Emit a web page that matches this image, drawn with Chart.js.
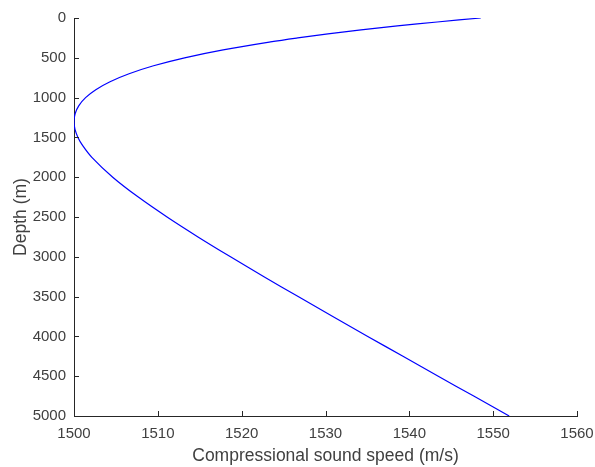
<!DOCTYPE html>
<html>
<head>
<meta charset="utf-8">
<script src="https://cdn.jsdelivr.net/npm/chart.js@4/dist/chart.umd.min.js"></script>
<style>
  html, body { margin: 0; padding: 0; background: #fff; }
  #wrap { width: 595px; height: 467px; }
</style>
</head>
<body>
<div id="wrap"><canvas id="profile" width="595" height="467"></canvas></div>
<script>
// sound speed profile, depth (m) vs compressional speed (m/s)
const depths = [0, 50, 100, 150, 200, 250, 300, 400, 500, 600, 700, 800, 900, 1000, 1100, 1200, 1300,
  1400, 1500, 1600, 1750, 2000, 2250, 2500, 2750, 3000, 3250, 3500, 3750, 4000, 4250, 4500, 4750, 5000];
const speeds = [1548.52, 1543.32, 1538.57, 1534.24, 1530.29, 1526.69, 1523.43, 1517.79, 1513.19, 1509.49,
  1506.57, 1504.30, 1502.60, 1501.38, 1500.58, 1500.14, 1500.00, 1500.12, 1500.47, 1501.02, 1502.13,
  1504.62, 1507.67, 1511.10, 1514.79, 1518.67, 1522.66, 1526.74, 1530.87, 1535.04, 1539.24, 1543.45,
  1547.68, 1551.91];

const xTicks = [1500, 1510, 1520, 1530, 1540, 1550, 1560];
const yTicks = [0, 500, 1000, 1500, 2000, 2500, 3000, 3500, 4000, 4500, 5000];

const axisColor = '#262626';
const textColor = '#404040';
const fontFamily = 'Arial, "Liberation Sans", Helvetica, sans-serif';

// matlab-style ticks pointing into the plot area
const inwardTicks = {
  id: 'inwardTicks',
  afterDraw(chart) {
    const { ctx, scales: { x, y }, chartArea } = chart;
    ctx.save();
    ctx.strokeStyle = axisColor;
    ctx.lineWidth = 1;
    ctx.beginPath();
    xTicks.forEach(v => {
      const px = Math.round(x.getPixelForValue(v)) + 0.5;
      ctx.moveTo(px, chartArea.bottom);
      ctx.lineTo(px, chartArea.bottom - 5);
    });
    yTicks.forEach(v => {
      const py = Math.round(y.getPixelForValue(v)) + 0.5;
      ctx.moveTo(chartArea.left, py);
      ctx.lineTo(chartArea.left + 5, py);
    });
    ctx.stroke();
    ctx.restore();
  }
};

const points = depths.map((d, i) => ({ x: speeds[i], y: d }));

new Chart(document.getElementById('profile'), {
  type: 'scatter',
  data: {
    datasets: [{
      data: points,
      showLine: true,
      borderColor: '#0000ff',
      borderWidth: 1.2,
      pointRadius: 0,
      tension: 0.35,
      fill: false
    }]
  },
  options: {
    responsive: false,
    animation: false,
    layout: { padding: { top: 18, right: 18, left: 0, bottom: 0 } },
    plugins: {
      legend: { display: false },
      tooltip: { enabled: false }
    },
    scales: {
      x: {
        type: 'linear',
        min: 1500,
        max: 1560,
        afterBuildTicks: s => { s.ticks = xTicks.map(v => ({ value: v })); },
        afterFit: s => { s.height = 51; s.paddingLeft = 0; s.paddingRight = 0; },
        grid: { display: false, drawTicks: false },
        border: { display: true, color: axisColor, width: 1 },
        ticks: {
          padding: 9,
          color: textColor,
          font: { family: fontFamily, size: 15 },
          maxRotation: 0,
          callback: v => String(v)
        },
        title: {
          display: true,
          text: 'Compressional sound speed (m/s)',
          color: textColor,
          font: { family: fontFamily, size: 17.5 },
          padding: { top: 0, bottom: 0 }
        }
      },
      y: {
        type: 'linear',
        reverse: true,
        min: 0,
        max: 5000,
        afterBuildTicks: s => { s.ticks = yTicks.map(v => ({ value: v })); },
        afterFit: s => { s.width = 74; s.paddingTop = 0; s.paddingBottom = 0; },
        grid: { display: false, drawTicks: false },
        border: { display: true, color: axisColor, width: 1 },
        ticks: {
          padding: 8,
          color: textColor,
          font: { family: fontFamily, size: 15 },
          callback: v => String(v)
        },
        title: {
          display: true,
          text: 'Depth (m)',
          color: textColor,
          font: { family: fontFamily, size: 17.5 },
          padding: { top: 11, bottom: 0 }
        }
      }
    }
  },
  plugins: [inwardTicks]
});
</script>
</body>
</html>
